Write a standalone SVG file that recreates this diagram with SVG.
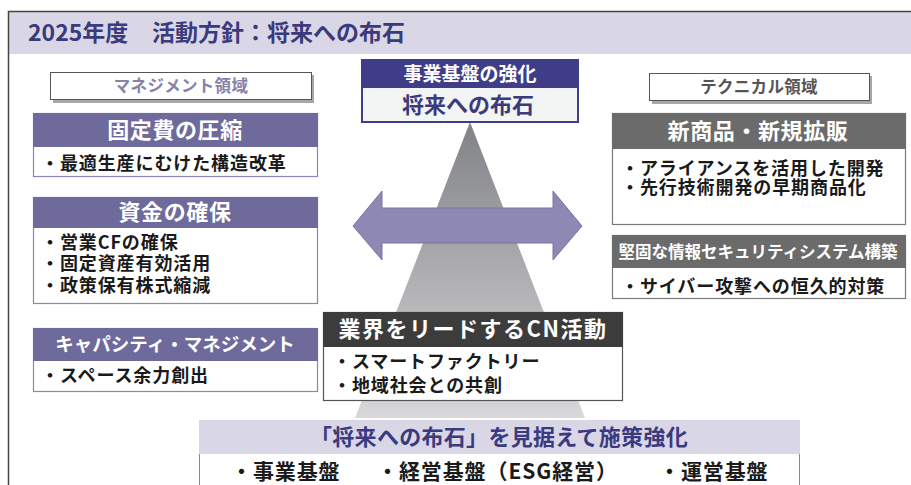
<svg xmlns="http://www.w3.org/2000/svg" width="911" height="485" viewBox="0 0 911 485">
<style>
text{font-family:"Noto Sans CJK JP","Noto Sans",sans-serif;font-weight:700}
.title{font-size:23px;fill:#3b3a7c}
.lbl{font-size:16.5px;text-anchor:middle;letter-spacing:0.3px}
.ph{fill:#6f6a9c}
.pb{fill:#fff;stroke:#8a86b5;stroke-width:1.2}
.gh{fill:#6b6b6b}
.gb{fill:#fff;stroke:#7a7a7a;stroke-width:1.2}
.hd{fill:#fff;text-anchor:middle}
.bd{font-size:18px;fill:#1a1a1a;letter-spacing:0.9px}
.bt{font-size:21px;fill:#1a1a1a;letter-spacing:0.9px}
</style>
<defs>
<linearGradient id="tri" x1="0" y1="0" x2="0" y2="1">
<stop offset="0" stop-color="#818286"/>
<stop offset="1" stop-color="#d8d8da"/>
</linearGradient>
</defs>
<rect width="911" height="485" fill="#fff"/>
<!-- frame and header band -->
<rect x="9" y="12" width="902" height="42" fill="#d9d7e6"/>
<path d="M8.5 485V11.5H911" fill="none" stroke="#444" stroke-width="1.5"/>
<text class="title" x="28" y="41">2025年度　<tspan x="152">活動方針：将来への布石</tspan></text>

<!-- pyramid -->
<polygon points="470,122 355,418 585,418" fill="url(#tri)"/>

<g id="connectors">
<polygon points="353,226 382,191 382,208 553,208 553,191 582,226 553,260 553,243 382,243 382,260" fill="#8e88b4" stroke="#7a74a6" stroke-width="1"/>
</g>

<g id="label-management">
<rect x="53" y="75" width="261" height="28" fill="#a8a8a8"/>
<rect x="50.5" y="72.5" width="261" height="27" fill="#fff" stroke="#555" stroke-width="1"/>
<text class="lbl" x="181" y="92" fill="#8683aa">マネジメント領域</text>
</g>

<g id="label-technical">
<rect x="652" y="76" width="220" height="28" fill="#a8a8a8"/>
<rect x="649.5" y="73.5" width="220" height="27" fill="#fff" stroke="#555" stroke-width="1"/>
<text class="lbl" x="759" y="93" fill="#555">テクニカル領域</text>
</g>

<g id="top-center">
<rect x="362" y="60" width="216" height="62" fill="#f3f4f4" stroke="#3f3d88" stroke-width="2"/>
<rect x="362" y="60" width="216" height="28" fill="#3f3d88"/>
<text class="hd" x="470" y="81" font-size="19">事業基盤の強化</text>
<text x="468" y="113" font-size="22" fill="#3b3a7c" text-anchor="middle">将来への布石</text>
</g>

<g id="fixed-cost">
<rect class="pb" x="33.5" y="113.5" width="284" height="63"/>
<rect class="ph" x="33" y="113" width="285" height="34"/>
<text class="hd" x="175" y="138" font-size="22" letter-spacing="0.6">固定費の圧縮</text>
<text class="bd" x="41" y="170">・最適生産にむけた構造改革</text>
</g>

<g id="funds">
<rect class="pb" x="33.5" y="197.5" width="284" height="106"/>
<rect class="ph" x="33" y="197" width="285" height="31"/>
<text class="hd" x="175" y="220" font-size="22" letter-spacing="0.6">資金の確保</text>
<text class="bd" x="41" y="248.5">・営業CFの確保</text>
<text class="bd" x="41" y="270">・固定資産有効活用</text>
<text class="bd" x="41" y="291.5">・政策保有株式縮減</text>
</g>

<g id="capacity">
<rect class="pb" x="33.5" y="328.5" width="284" height="63"/>
<rect class="ph" x="33" y="328" width="285" height="33"/>
<text class="hd" x="175" y="351" font-size="18.5">キャパシティ・マネジメント</text>
<text class="bd" x="41" y="381.5">・スペース余力創出</text>
</g>

<g id="new-products">
<rect class="gb" x="612.5" y="113.5" width="293" height="111"/>
<rect class="gh" x="612" y="113" width="294" height="36"/>
<text class="hd" x="758" y="139" font-size="22" letter-spacing="0.6">新商品・新規拡販</text>
<text class="bd" x="621" y="174.5">・アライアンスを活用した開発</text>
<text class="bd" x="621" y="193.5">・先行技術開発の早期商品化</text>
</g>

<g id="security">
<rect class="gb" x="612.5" y="235.5" width="293" height="63"/>
<rect class="gh" x="612" y="235" width="294" height="33"/>
<text class="hd" x="758" y="257.5" font-size="16.5">堅固な情報セキュリティシステム構築</text>
<text class="bd" x="621" y="293">・サイバー攻撃への恒久的対策</text>
</g>

<g id="cn">
<rect x="323.5" y="312.5" width="299" height="88" fill="#fff" stroke="#555" stroke-width="1.2"/>
<rect x="323" y="312" width="300" height="35" fill="#3c3c3c"/>
<text class="hd" x="473" y="337" font-size="22" letter-spacing="1.5">業界をリードするCN活動</text>
<text class="bd" x="333" y="368">・スマートファクトリー</text>
<text class="bd" x="333" y="392">・地域社会との共創</text>
</g>

<g id="bottom">
<rect x="199" y="454" width="600" height="31" fill="#fff"/>
<path d="M199.5 454V485M799.5 454V485" stroke="#888" stroke-width="1"/>
<rect x="199" y="420" width="601" height="34" fill="#d9d7e6"/>
<text x="499" y="445" font-size="22" fill="#3b3a80" text-anchor="middle" letter-spacing="0.3">「将来への布石」を見据えて施策強化</text>
<text class="bt" x="231" y="479">・事業基盤</text>
<text class="bt" x="377" y="479" font-size="22" letter-spacing="1.2">・経営基盤（ESG経営）</text>
<text class="bt" x="659" y="479">・運営基盤</text>
</g>
</svg>
